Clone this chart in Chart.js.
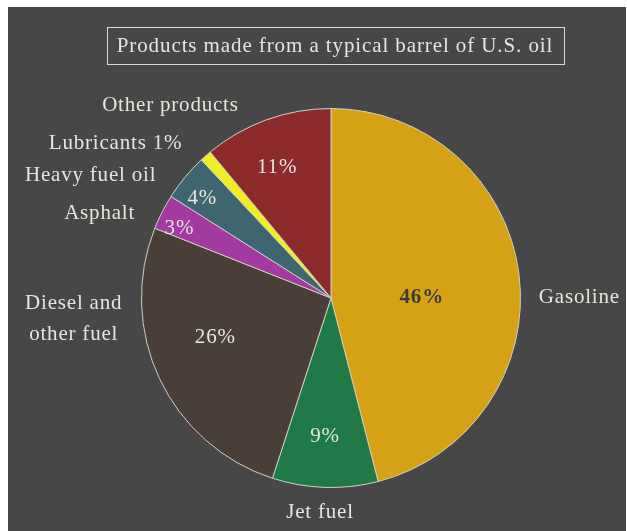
<!DOCTYPE html>
<html>
<head>
<meta charset="utf-8">
<script src="https://cdn.jsdelivr.net/npm/chart.js@4"></script>
<style>
  html, body { margin: 0; padding: 0; background: #fff; }
  #wrap {
    position: absolute; left: 8px; top: 7px;
    width: 618px; height: 524px;
    background: #474747;
  }
</style>
</head>
<body>
<div id="wrap"><canvas id="oil"></canvas></div>
<script>
const title = "Products made from a typical barrel of U.S. oil";
const products = ["Gasoline", "Jet fuel", "Diesel and other fuel", "Asphalt", "Heavy fuel oil", "Lubricants", "Other products"];
const shares = [46, 9, 26, 3, 4, 1, 11];
const sliceColors = ["#d4a214", "#1f7a48", "#4a3e39", "#a23aa0", "#3d6670", "#eeee22", "#8c2a2c"];

// label spots, in pixels from the pie centre for a 190px radius
const outerSpots = [[249, -1], [-11, 215], [-258, 21], [-232, -85], [-241, -123], [-216, -155], [-161, -193]];
const innerSpots = [[91, 0], [-6, 139], [-116, 40], [-152, -70], [-129, -100], [0, 0], [-54, -131]];

const labelPlugin = {
  id: "barrelLabels",
  afterDraw(chart) {
    const ctx = chart.ctx;
    const arc = chart.getDatasetMeta(0).data[0];
    const cx = arc.x, cy = arc.y, k = arc.outerRadius / 190;
    const serif = '"Liberation Serif", "DejaVu Serif", serif';

    ctx.save();
    ctx.textAlign = "center";
    ctx.textBaseline = "middle";
    ctx.fillStyle = "#e6e6dc";

    // boxed title
    ctx.font = "21px " + serif;
    ctx.letterSpacing = "0.9px";
    const tw = ctx.measureText(title).width;
    const tx = chart.width / 2 + 18;
    ctx.fillText(title, tx, 39);
    ctx.strokeStyle = "#d8d8d0";
    ctx.lineWidth = 1;
    ctx.strokeRect(Math.round(tx - tw / 2 - 10) + 0.5, 20.5, Math.round(tw + 20), 37);

    // names around the pie
    ctx.font = "21px " + serif;
    ctx.letterSpacing = "0.8px";
    products.forEach((name, i) => {
      const [dx, dy] = outerSpots[i];
      let lines = [name];
      if (name === "Diesel and other fuel") lines = ["Diesel and", "other fuel"];
      if (name === "Lubricants") lines = ["Lubricants " + shares[i] + "%"];
      lines.forEach((ln, j) => {
        ctx.fillText(ln, cx + dx * k, cy + (dy + (j - (lines.length - 1) / 2) * 31) * k);
      });
    });

    // shares inside the slices
    shares.forEach((v, i) => {
      if (v < 2) return;
      const [dx, dy] = innerSpots[i];
      if (i === 0) {
        ctx.font = "bold 21px " + serif;
        ctx.fillStyle = "#3c3a36";
      } else {
        ctx.font = "21px " + serif;
        ctx.fillStyle = "#e6e6dc";
      }
      ctx.fillText(v + "%", cx + dx * k, cy + dy * k);
    });
    ctx.restore();
  }
};

new Chart(document.getElementById("oil"), {
  type: "pie",
  data: {
    labels: products,
    datasets: [{
      data: shares,
      backgroundColor: sliceColors,
      borderColor: "#cfcfc4",
      borderWidth: 1
    }]
  },
  options: {
    responsive: true,
    maintainAspectRatio: false,
    animation: false,
    layout: { padding: { left: 133, right: 105, top: 101, bottom: 43 } },
    plugins: {
      legend: { display: false },
      tooltip: { enabled: false },
      title: { display: false }
    }
  },
  plugins: [labelPlugin]
});
</script>
</body>
</html>
